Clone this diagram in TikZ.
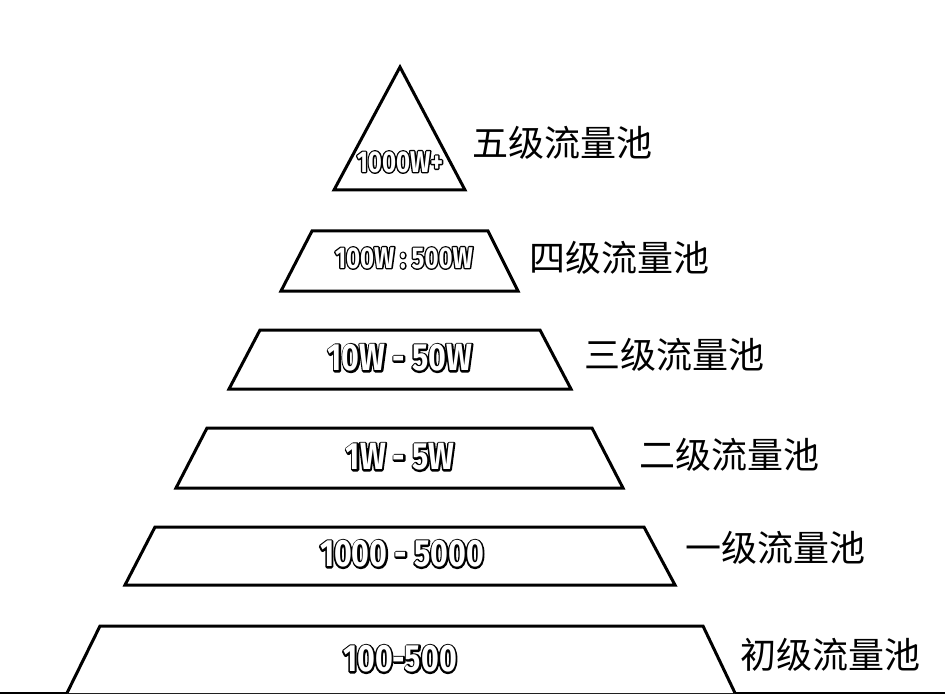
\documentclass[tikz,border=0pt]{standalone}
\usepackage{fontspec}
\usepackage{xcolor}
\usetikzlibrary{positioning}
\newfontfamily\cjk{Noto Sans CJK SC}
\newfontfamily\numfont{Fira Sans}[FakeStretch=0.8]
\newfontfamily\numedge{Fira Sans}[FakeStretch=0.8,FakeBold=9]

\begin{document}
\begin{tikzpicture}[x=1pt,y=-1pt,
tier/.style={draw=black,line width=3pt,fill=white},
num/.style={inner sep=0pt,text=white,font=\numfont\bfseries\fontsize{38}{40}\selectfont},
numbg/.style={inner sep=0pt,text=black,line join=round,
  font=\pgfsetroundjoin\numedge\bfseries\fontsize{38}{40}\selectfont},
small/.style={num,font=\numfont\bfseries\fontsize{30}{32}\selectfont},
smallbg/.style={numbg,font=\pgfsetroundjoin\numedge\bfseries\fontsize{30}{32}\selectfont},
lbl/.style={anchor=west,inner sep=0pt,font=\cjk\fontsize{36}{38}\selectfont}]
\useasboundingbox (0,0) rectangle (945,695);
\draw[line width=1.5pt] (0,693) -- (945,693);
% pyramid, top to bottom
\draw[tier] (400,67) -- (465,190) -- (334,190) -- cycle;
\draw[tier] (312,231) -- (488,231) -- (518,291) -- (281,291) -- cycle;
\draw[tier] (260,330) -- (540,330) -- (571,389) -- (229,389) -- cycle;
\draw[tier] (207,428) -- (592,428) -- (623,488) -- (176,488) -- cycle;
\draw[tier] (155,527) -- (644,527) -- (675,585) -- (125,585) -- cycle;
\draw[tier] (67,693) -- (100,626) -- (703,626) -- (735,693);
% ranges: black edge first, white face on top
\node[smallbg] (r5e) at (400,162) {1000W+};
\node[small] (r5) at (r5e) {1000W+};
\node[smallbg] (r4e) at (404,258) {100W : 500W};
\node[small] (r4) at (r4e) {100W : 500W};
\node[numbg] (r3e) at (400,358) {10W - 50W};
\node[num] (r3) at (r3e) {10W - 50W};
\node[numbg] (r2e) at (400,457) {1W - 5W};
\node[num] (r2) at (r2e) {1W - 5W};
\node[numbg] (r1e) at (402,554) {1000 - 5000};
\node[num] (r1) at (r1e) {1000 - 5000};
\node[numbg] (r0e) at (400,659) {100-500};
\node[num] (r0) at (r0e) {100-500};
% pool names
\node[lbl] (p5) at (472,143) {五级流量池};
\node[lbl] (p4) at (529,258) {四级流量池};
\node[lbl] (p3) at (584,355) {三级流量池};
\node[lbl] (p2) at (639,455) {二级流量池};
\node[lbl] (p1) at (685,548) {一级流量池};
\node[lbl] (p0) at (740,655) {初级流量池};
\end{tikzpicture}
\end{document}
